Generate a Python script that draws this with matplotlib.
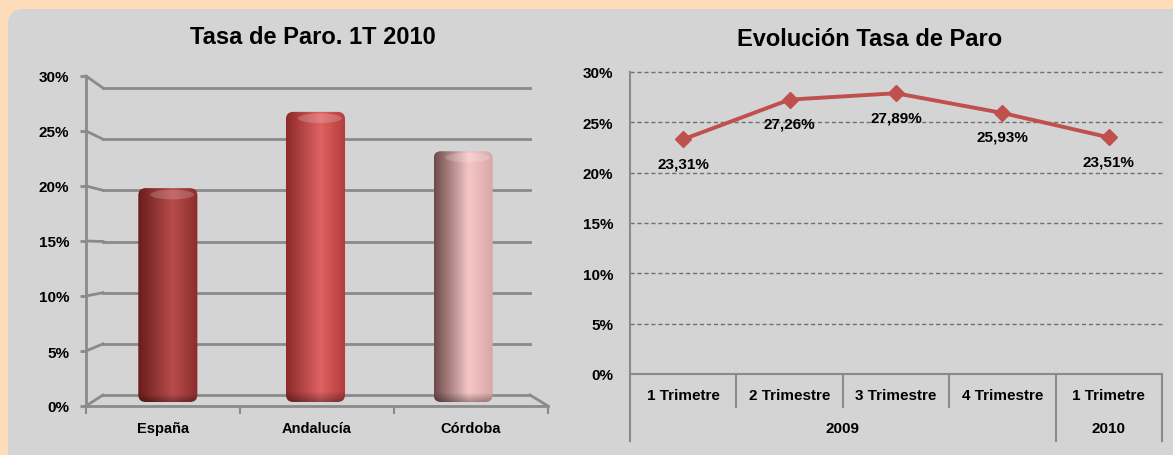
import matplotlib
matplotlib.use("Agg")
import matplotlib.pyplot as plt
import numpy as np
from matplotlib.patches import FancyBboxPatch, Ellipse
from matplotlib.colors import to_rgb
from matplotlib.ticker import FuncFormatter

W, H = 1173, 456
DPI = 100

# datos
regiones = ["España", "Andalucía", "Córdoba"]
tasa_1t2010 = [20.05, 27.20, 23.51]
trimestres = ["1 Trimetre", "2 Trimestre", "3 Trimestre", "4 Trimestre", "1 Trimetre"]
tasa_evol = [23.31, 27.26, 27.89, 25.93, 23.51]
etiquetas_evol = ["23,31%", "27,26%", "27,89%", "25,93%", "23,51%"]
anios = ["2009", "2010"]
anios_pos = [1.5, 4]
y_ticks = [0, 5, 10, 15, 20, 25, 30]

# colores de los cilindros (sombra, brillo, borde derecho)
bar_cols = [("#6a1c1c", "#b84c4c", "#8c2c2c"),
            ("#8c2a2a", "#e06262", "#b23c3c"),
            ("#6e4a4a", "#f6c6c6", "#d8a6a6")]

FONT = ["Liberation Sans", "DejaVu Sans"]
NARROW = ["Liberation Sans Narrow", "Liberation Sans", "DejaVu Sans"]
plt.rcParams["font.family"] = FONT
plt.rcParams["font.weight"] = "bold"

GRIS = "#8a8a8a"
ROJO = "#c0504d"
pct = FuncFormatter(lambda v, _: f"{v:.0f}%")


def px_axes(fig, x0, y0, x1, y1):
    # caja en pixeles (origen arriba a la izquierda) -> axes
    return fig.add_axes([x0 / W, 1 - y1 / H, (x1 - x0) / W, (y1 - y0) / H])


fig = plt.figure(figsize=(W / DPI, H / DPI), dpi=DPI, facecolor="#fedcb9")

# panel gris de fondo
bg = fig.add_axes([0, 0, 1, 1])
bg.set_xlim(0, W)
bg.set_ylim(H, 0)
bg.axis("off")
bg.add_patch(FancyBboxPatch((8, 10), W + 30, H + 30,
                            boxstyle="round,pad=0,rounding_size=16",
                            fc="#d4d4d4", ec="none"))


def to_bg(ax, x, y):
    d = ax.transData.transform((x, y))
    return bg.transData.inverted().transform(d)


# ---------------- grafico izquierdo (cilindros 3D) ----------------
ax_b = px_axes(fig, 103, 89, 530, 396)   # pared del fondo
ax_b.set_xlim(0, 1)
ax_b.set_ylim(0, 30)
ax_b.axis("off")
for t in y_ticks:
    ax_b.axhline(t, color=GRIS, lw=2, clip_on=False)

ax_f = px_axes(fig, 86, 77, 548, 407)    # eje frontal
ax_f.set_xlim(0, 3)
ax_f.set_ylim(0, 30)
ax_f.patch.set_alpha(0)
for s in ["top", "right"]:
    ax_f.spines[s].set_visible(False)
for s in ["left", "bottom"]:
    ax_f.spines[s].set_color(GRIS)
    ax_f.spines[s].set_linewidth(2)
ax_f.set_yticks(y_ticks)
ax_f.yaxis.set_major_formatter(pct)
ax_f.tick_params(axis="y", length=4, width=2, color=GRIS, pad=8, labelsize=11)
ax_f.set_xticks([0, 1, 2, 3])
ax_f.set_xticklabels([])
ax_f.tick_params(axis="x", length=6, width=1.5, color=GRIS)
for i, r in enumerate(regiones):
    ax_f.annotate(r, (i + 0.5, 0), xycoords=ax_f.get_xaxis_transform(),
                  xytext=(0, -22), textcoords="offset pixels",
                  ha="center", va="center", fontsize=10.5)

# uniones diagonales entre eje frontal y pared del fondo
for t in y_ticks:
    p0 = to_bg(ax_f, 0, t)
    p1 = to_bg(ax_b, 0, t)
    bg.plot([p0[0], p1[0]], [p0[1], p1[1]], color=GRIS, lw=2)
p0 = to_bg(ax_b, 1, 0)
p1 = to_bg(ax_f, 3, 0)
bg.plot([p0[0], p1[0]], [p0[1], p1[1]], color=GRIS, lw=2)

ax_c = px_axes(fig, 94, 83, 537, 403)    # cilindros
xs = np.linspace(0, 1, 80)[:, None]
rows = np.linspace(0, 1, 200)[:, None, None]
for i, (v, cols) in enumerate(zip(tasa_1t2010, bar_cols)):
    c0, c1, c2 = [np.array(to_rgb(c)) for c in cols]
    grad = np.where(xs < 0.58, c0 + (c1 - c0) * (xs / 0.58),
                    c1 + (c2 - c1) * ((xs - 0.58) / 0.42))
    shade = 1 - 0.3 * np.clip((0.035 - rows) / 0.035, 0, 1)
    img = np.clip(grad[None, :, :] * shade, 0, 1)
    x0 = i - 0.2
    im = ax_c.imshow(img, extent=(x0, x0 + 0.4, 0, v), aspect="auto",
                     origin="lower", interpolation="bilinear", zorder=2)
    clip = FancyBboxPatch((x0, 0), 0.4, v,
                          boxstyle="round,pad=0,rounding_size=0.05",
                          mutation_aspect=147.7 / 10.67,
                          fc="none", ec="none")
    ax_c.add_patch(clip)
    im.set_clip_path(clip)
    ax_c.add_patch(Ellipse((i + 0.03, v - 0.6), 0.3, 0.9, fc="white",
                           ec="none", alpha=0.18, zorder=3))
ax_c.set_xlim(-0.5, 2.5)
ax_c.set_ylim(0, 30)
ax_c.axis("off")

fig.text(313 / W, 1 - 38 / H, "Tasa de Paro. 1T 2010", ha="center",
         va="center", family=NARROW, fontsize=17, fontweight="bold")

# ---------------- grafico derecho (lineas) ----------------
ax_r = px_axes(fig, 630, 73, 1162, 375)
ax_r.set_xlim(-0.5, 4.5)
ax_r.set_ylim(0, 30)
ax_r.patch.set_alpha(0)
for s in ["top", "right"]:
    ax_r.spines[s].set_visible(False)
for s in ["left", "bottom"]:
    ax_r.spines[s].set_color(GRIS)
    ax_r.spines[s].set_linewidth(1.5)
ax_r.set_yticks(y_ticks)
ax_r.yaxis.set_major_formatter(pct)
ax_r.tick_params(axis="y", length=0, pad=12, labelsize=11)
ax_r.set_xticks([])
for t in y_ticks[1:]:
    ax_r.axhline(t, color="#707070", lw=1, ls=(0, (3, 2)), clip_on=False, zorder=1)

ax_r.plot(range(len(tasa_evol)), tasa_evol, color=ROJO, lw=2.8,
          marker="D", ms=8, zorder=3)
for i, (v, lab) in enumerate(zip(tasa_evol, etiquetas_evol)):
    ax_r.annotate(lab, (i, v), xytext=(0, -24), textcoords="offset pixels",
                  ha="center", va="center", fontsize=11)

xt = ax_r.get_xaxis_transform()
for i, lab in enumerate(trimestres):
    ax_r.annotate(lab, (i, 0), xycoords=xt, xytext=(0, -21),
                  textcoords="offset pixels", ha="center", va="center",
                  fontsize=11)
for a, xp in zip(anios, anios_pos):
    ax_r.annotate(a, (xp, 0), xycoords=xt, xytext=(0, -54),
                  textcoords="offset pixels", ha="center", va="center",
                  fontsize=11)

hgt = 302.0
for b in [0.5, 1.5, 2.5]:
    ax_r.plot([b, b], [0, -33 / hgt], transform=xt, color=GRIS, lw=1.5, clip_on=False)
for b in [-0.5, 3.5, 4.5]:
    ax_r.plot([b, b], [0, -67 / hgt], transform=xt, color=GRIS, lw=1.5, clip_on=False)

fig.text(870 / W, 1 - 39 / H, "Evolución Tasa de Paro", ha="center",
         va="center", family=NARROW, fontsize=17, fontweight="bold")

fig.savefig("out.png", dpi=DPI, facecolor=fig.get_facecolor())
